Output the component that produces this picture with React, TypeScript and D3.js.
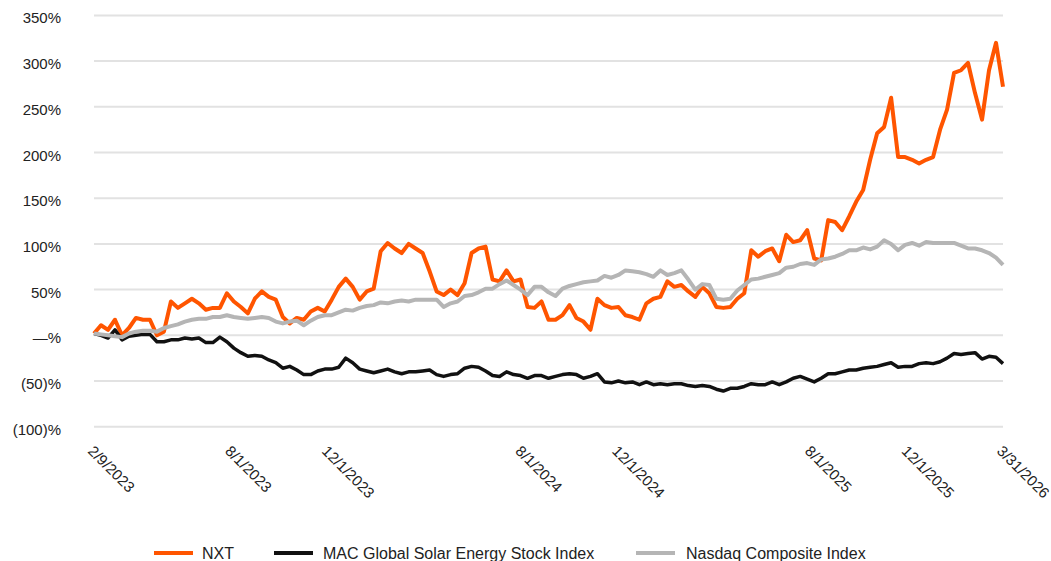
import React from "react";
import * as d3 from "d3";

const startDate = new Date(2023, 1, 9);
const endDate = new Date(2026, 2, 31);

const tickDates = [
  new Date(2023, 1, 9),
  new Date(2023, 7, 1),
  new Date(2023, 11, 1),
  new Date(2024, 7, 1),
  new Date(2024, 11, 1),
  new Date(2025, 7, 1),
  new Date(2025, 11, 1),
  new Date(2026, 2, 31),
];
const tickLabels = ["2/9/2023", "8/1/2023", "12/1/2023", "8/1/2024", "12/1/2024", "8/1/2025", "12/1/2025", "3/31/2026"];

const yTicks = [350, 300, 250, 200, 150, 100, 50, 0, -50, -100];

const nxt = [
  2, 11, 6, 17, 0, 8, 19, 17, 17, 0, 4, 37, 30, 35, 40, 35, 28, 30, 30, 46, 37, 31, 24, 40, 48, 42, 39, 20, 13, 19, 17, 26, 30,
  26, 39, 53, 62, 53, 39, 48, 51, 92, 101, 95, 90, 100, 95, 90, 70, 48, 44, 50, 44, 57, 90, 95, 97, 61, 59, 71, 59, 61, 31, 30, 37, 17,
  17, 22, 33, 19, 15, 6, 40, 33, 30, 31, 22, 20, 17, 35, 40, 42, 59, 53, 55, 48, 42, 53, 46, 31, 30, 31, 40, 46, 93, 86, 92, 95, 81,
  110, 102, 104, 115, 84, 82, 126, 124, 115, 130, 146, 159, 192, 221, 228, 260, 195, 195, 192, 188, 192, 195, 225, 247, 287, 290, 298, 265, 236, 290, 320, 272,
];

const mac = [
  2, 0, -3, 6, -5, -1, 0, 1, 1, -7, -7, -5, -5, -3, -4, -3, -8, -8, -2, -7, -14, -19, -23, -22, -23, -27, -30, -36, -34, -38, -43, -43, -39,
  -37, -37, -35, -25, -30, -37, -39, -41, -39, -37, -40, -42, -40, -40, -39, -38, -43, -45, -43, -42, -36, -34, -35, -39, -44, -45, -40, -43, -44, -47, -44, -44, -47,
  -45, -43, -42, -43, -47, -45, -42, -51, -52, -50, -52, -51, -54, -51, -54, -53, -54, -53, -53, -55, -56, -55, -56, -59, -61, -58, -58, -56, -53, -54, -54, -51, -54,
  -51, -47, -45, -48, -51, -47, -42, -42, -40, -38, -38, -36, -35, -34, -32, -30, -35, -34, -34, -31, -30, -31, -29, -25, -20, -21, -20, -19, -26, -23, -24, -31,
];

const nasdaq = [
  2, 1, 0, -1, -2, 2, 4, 5, 5, 4, 8, 10, 12, 15, 17, 18, 18, 20, 20, 22, 20, 19, 18, 19, 20, 19, 15, 13, 15, 16, 11, 16, 20,
  22, 22, 25, 28, 27, 30, 32, 33, 36, 35, 37, 38, 37, 39, 39, 39, 39, 31, 35, 37, 43, 44, 47, 51, 51, 56, 60, 55, 50, 44, 53, 53, 47,
  43, 51, 54, 56, 58, 59, 60, 65, 63, 66, 71, 70, 69, 67, 64, 71, 66, 68, 71, 61, 50, 56, 55, 40, 39, 40, 49, 55, 61, 62, 64, 66, 68,
  74, 75, 78, 79, 77, 83, 84, 86, 89, 93, 93, 96, 94, 97, 104, 100, 93, 99, 101, 98, 102, 101, 101, 101, 101, 98, 95, 95, 93, 90, 85, 77,
];

const seriesNames = ["NXT", "MAC Global Solar Energy Stock Index", "Nasdaq Composite Index"];
const seriesColors = ["#ff5500", "#111111", "#b5b5b5"];

const W = 1051;
const H = 561;
const FONT = "'Liberation Sans', Arial, Helvetica, sans-serif";

function fmtPct(v: number) {
  if (v === 0) return "\u2014%";
  if (v < 0) return `(${Math.abs(v)})%`;
  return `${v}%`;
}

export default function App() {
  const x = d3.scaleTime().domain([startDate, endDate]).range([94, 1003]);
  const y = d3.scaleLinear().domain([-100, 350]).range([426.7, 15.4]);
  const n = nxt.length;
  const span = endDate.getTime() - startDate.getTime();
  const dateAt = (i: number) => new Date(startDate.getTime() + (span * i) / (n - 1));
  const line = d3
    .line<number>()
    .x((_, i) => x(dateAt(i)))
    .y((d) => y(d));

  const all = [nxt, mac, nasdaq];
  const widths = [4, 3.5, 4];

  const legendItems = [
    { sx: 154, tx: 202 },
    { sx: 274, tx: 323 },
    { sx: 636, tx: 686 },
  ];

  return (
    <svg width={W} height={H} style={{ position: "absolute", left: 0, top: 0, background: "#fff" }} fontFamily={FONT}>
      {yTicks.map((t) => (
        <g key={t}>
          <line x1={94} x2={1003} y1={y(t)} y2={y(t)} stroke="#e2e2e2" strokeWidth={2} />
          <text x={61} y={y(t) + 8} textAnchor="end" fontSize={15} fill="#222">
            {fmtPct(t)}
          </text>
        </g>
      ))}
      {tickDates.map((d, i) => (
        <text key={i} transform={`translate(${x(d) - 7},${452}) rotate(45)`} fontSize={15} fill="#222">
          {tickLabels[i]}
        </text>
      ))}
      {all.map((s, i) => (
        <path key={i} d={line(s) || ""} fill="none" stroke={seriesColors[i]} strokeWidth={widths[i]} strokeLinejoin="round" />
      ))}
      {legendItems.map((l, i) => (
        <g key={i}>
          <line x1={l.sx} x2={l.sx + 39} y1={553} y2={553} stroke={seriesColors[i]} strokeWidth={4} />
          <text x={l.tx} y={559} fontSize={16} fill="#222">
            {seriesNames[i]}
          </text>
        </g>
      ))}
    </svg>
  );
}
